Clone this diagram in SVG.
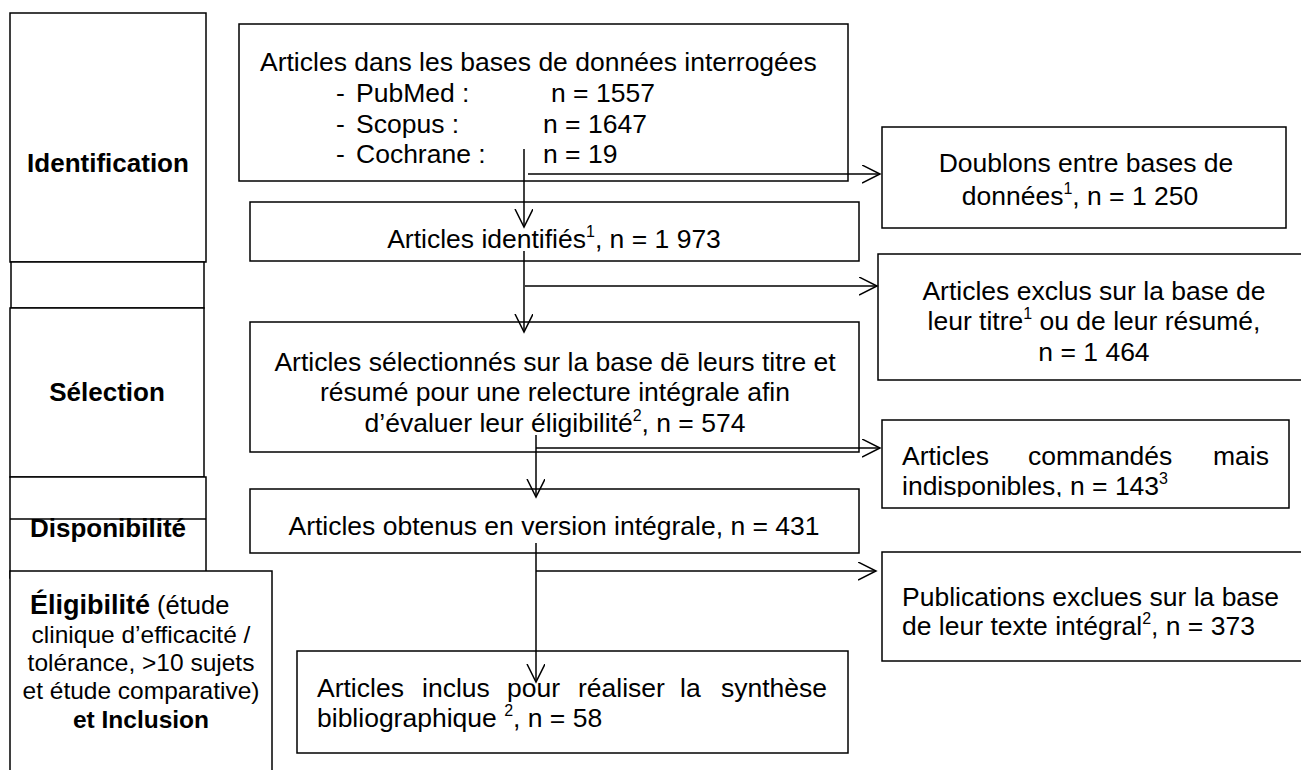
<svg xmlns="http://www.w3.org/2000/svg" width="1301" height="770" viewBox="0 0 1301 770">
<style>
  .box { fill: #fff; stroke: #000; stroke-width: 1.5; }
  .t { font-family: "Liberation Sans", Arial, sans-serif; font-size: 26.5px; fill: #000; }
  .lbl { font-family: "Liberation Sans", Arial, sans-serif; font-size: 26px; font-weight: bold; fill: #000; text-anchor: middle; }
  .el { font-family: "Liberation Sans", Arial, sans-serif; font-size: 24.5px; fill: #000; text-anchor: middle; }
  .el.s { text-anchor: start; }
  .c { text-anchor: middle; }
  .sup { font-size: 16px; }
  .conn line { stroke: #000; stroke-width: 1.5; fill: none; }
</style>
<defs>
  <marker id="arr" markerUnits="userSpaceOnUse" markerWidth="20" markerHeight="20" refX="18" refY="9" orient="auto">
    <path d="M0,0 L18,9 L0,18" fill="none" stroke="#000" stroke-width="1.5"/>
  </marker>
  <clipPath id="clipCmd"><rect x="882" y="420" width="407" height="77"/></clipPath>
</defs>
<rect width="1301" height="770" fill="#fff"/>

<!-- Left phase column -->
<g id="phase-identification">
  <rect class="box" x="10" y="13" width="196" height="249"/>
  <text class="lbl" x="108" y="172">Identification</text>
</g>
<g id="phase-blank1">
  <rect class="box" x="11" y="262" width="193" height="46"/>
</g>
<g id="phase-selection">
  <rect class="box" x="10" y="308" width="194" height="169"/>
  <text class="lbl" x="107" y="401">Sélection</text>
</g>
<g id="phase-disponibilite">
  <rect class="box" x="10" y="477" width="196" height="101"/>
  <line x1="10" y1="519" x2="206" y2="519" stroke="#000" stroke-width="1.5"/>
  <text class="lbl" x="108" y="537">Disponibilité</text>
</g>
<g id="phase-eligibilite">
  <rect class="box" x="10" y="571" width="262" height="215"/>
  <text class="el s" x="30" y="614"><tspan font-weight="bold" font-size="27px">Éligibilité</tspan><tspan font-size="25.5px"> (étude</tspan></text>
  <text class="el" x="141" y="643">clinique d’efficacité /</text>
  <text class="el" x="141" y="671">tolérance, &gt;10 sujets</text>
  <text class="el" x="141" y="699">et étude comparative)</text>
  <text class="el" x="141" y="728" font-weight="bold">et Inclusion</text>
</g>

<!-- Main flow -->
<g id="n-bases">
  <rect class="box" x="239" y="24" width="609" height="157"/>
  <text class="t" x="260" y="71">Articles dans les bases de données interrogées</text>
  <text class="t" y="102"><tspan x="336">-</tspan><tspan x="356">PubMed :</tspan><tspan x="551">n = 1557</tspan></text>
  <text class="t" y="133"><tspan x="336">-</tspan><tspan x="356">Scopus :</tspan><tspan x="543">n = 1647</tspan></text>
  <text class="t" y="163"><tspan x="336">-</tspan><tspan x="356">Cochrane :</tspan><tspan x="543">n = 19</tspan></text>
</g>
<g id="n-identifies">
  <rect class="box" x="250" y="202" width="609" height="59"/>
  <text class="t c" x="554" y="248">Articles identifiés<tspan class="sup" dy="-11">1</tspan><tspan dy="11">, n = 1 973</tspan></text>
</g>
<g id="n-selectionnes">
  <rect class="box" x="250" y="322" width="609" height="130"/>
  <text class="t c" x="555" y="371">Articles sélectionnés sur la base dē leurs titre et</text>
  <text class="t c" x="555" y="401">résumé pour une relecture intégrale afin</text>
  <text class="t c" x="555" y="432">d’évaluer leur éligibilité<tspan class="sup" dy="-11">2</tspan><tspan dy="11">, n = 574</tspan></text>
</g>
<g id="n-obtenus">
  <rect class="box" x="250" y="489" width="609" height="64"/>
  <text class="t c" x="554" y="535">Articles obtenus en version intégrale, n = 431</text>
</g>
<g id="n-inclus">
  <rect class="box" x="297" y="651" width="551" height="102"/>
  <text class="t" y="697"><tspan x="317">Articles</tspan><tspan x="422">inclus</tspan><tspan x="507">pour</tspan><tspan x="578">réaliser</tspan><tspan x="680">la</tspan><tspan x="721">synthèse</tspan></text>
  <text class="t" x="317" y="727">bibliographique <tspan class="sup" dy="-11">2</tspan><tspan dy="11">, n = 58</tspan></text>
</g>

<!-- Exclusion boxes -->
<g id="n-doublons">
  <rect class="box" x="882" y="127" width="404" height="101"/>
  <text class="t c" x="1086" y="172">Doublons entre bases de</text>
  <text class="t c" x="1080" y="205">données<tspan class="sup" dy="-11">1</tspan><tspan dy="11">, n = 1 250</tspan></text>
</g>
<g id="n-exclus-titre">
  <rect class="box" x="878" y="254" width="440" height="126"/>
  <text class="t c" x="1094" y="300">Articles exclus sur la base de</text>
  <text class="t c" x="1094" y="330">leur titre<tspan class="sup" dy="-11">1</tspan><tspan dy="11"> ou de leur résumé,</tspan></text>
  <text class="t c" x="1094" y="361">n = 1 464</text>
</g>
<g id="n-commandes">
  <rect class="box" x="882" y="420" width="407" height="88"/>
  <g clip-path="url(#clipCmd)">
    <text class="t" y="465"><tspan x="902">Articles</tspan><tspan x="1028">commandés</tspan><tspan x="1213">mais</tspan></text>
    <text class="t" x="902" y="495">indisponibles, n = 143<tspan class="sup" dy="-11">3</tspan></text>
  </g>
</g>
<g id="n-publications">
  <rect class="box" x="882" y="552" width="440" height="109"/>
  <text class="t" x="902" y="606">Publications exclues sur la base</text>
  <text class="t" x="902" y="635">de leur texte intégral<tspan class="sup" dy="-11">2</tspan><tspan dy="11">, n = 373</tspan></text>
</g>

<!-- Connectors -->
<g id="connectors" class="conn">
  <line x1="524" y1="149" x2="524" y2="227" marker-end="url(#arr)"/>
  <line x1="528" y1="174" x2="880" y2="174" marker-end="url(#arr)"/>
  <line x1="524" y1="251" x2="524" y2="332" marker-end="url(#arr)"/>
  <line x1="525" y1="286" x2="877" y2="286" marker-end="url(#arr)"/>
  <line x1="536" y1="435" x2="536" y2="497" marker-end="url(#arr)"/>
  <line x1="536" y1="448" x2="880" y2="448" marker-end="url(#arr)"/>
  <line x1="536" y1="543" x2="536" y2="682" marker-end="url(#arr)"/>
  <line x1="536" y1="571" x2="876" y2="571" marker-end="url(#arr)"/>
</g>
</svg>
